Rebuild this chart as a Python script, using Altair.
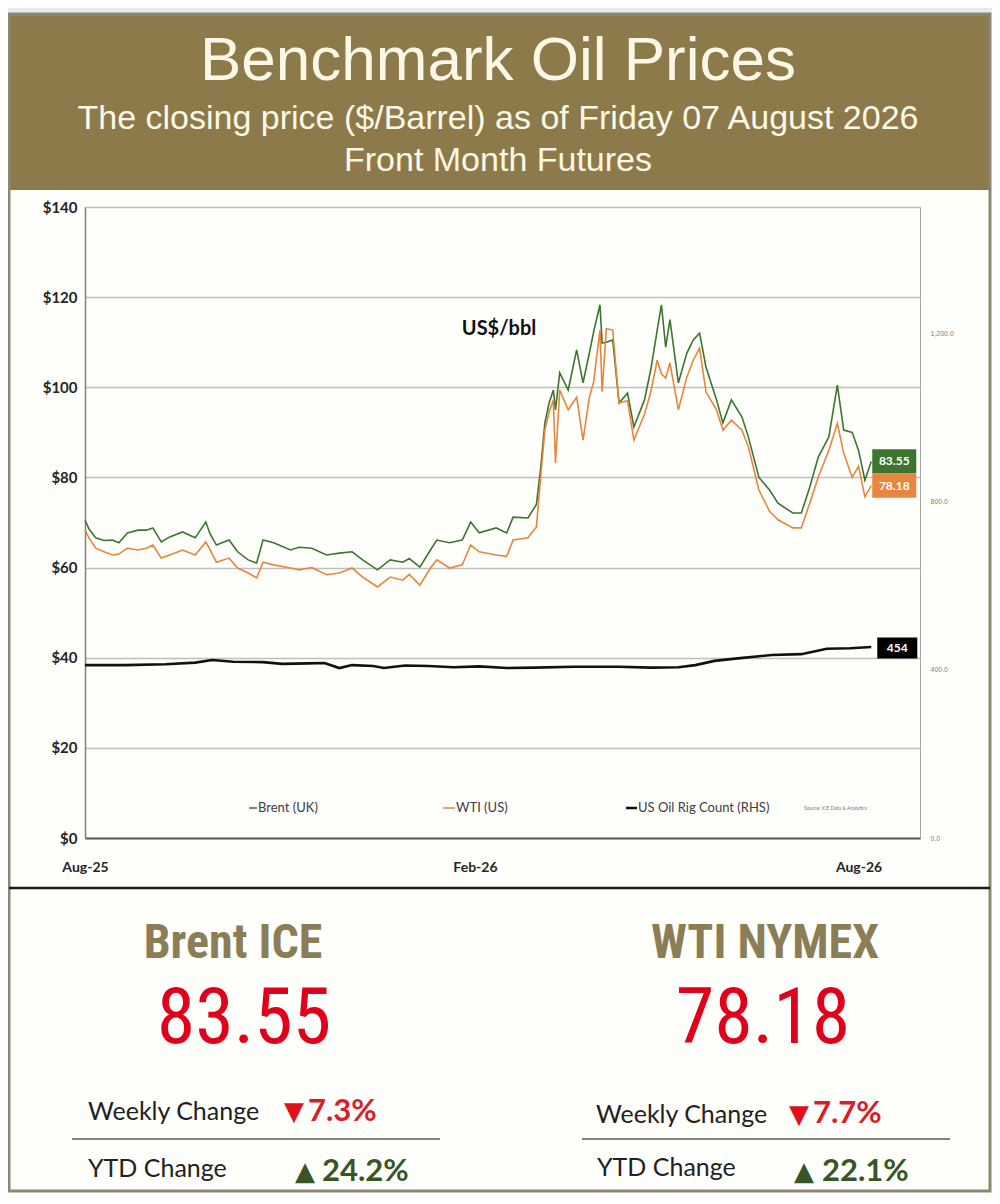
import altair as alt
import pandas as pd

# ---------------- data ----------------
price_dates = [
    "2025-08-01", "2025-08-03", "2025-08-06", "2025-08-10", "2025-08-14", "2025-08-17", "2025-08-21",
    "2025-08-26", "2025-08-30", "2025-09-02", "2025-09-06", "2025-09-10", "2025-09-16", "2025-09-22",
    "2025-09-27", "2025-09-29", "2025-10-02", "2025-10-08", "2025-10-12", "2025-10-17", "2025-10-21",
    "2025-10-24", "2025-10-29", "2025-11-06", "2025-11-10", "2025-11-16", "2025-11-23", "2025-11-29",
    "2025-12-05", "2025-12-10", "2025-12-17", "2025-12-23", "2025-12-29", "2026-01-01", "2026-01-06",
    "2026-01-11", "2026-01-14", "2026-01-20", "2026-01-26", "2026-01-30", "2026-02-03", "2026-02-11",
    "2026-02-16", "2026-02-19", "2026-02-26", "2026-03-02", "2026-03-04", "2026-03-06", "2026-03-08",
    "2026-03-10", "2026-03-11", "2026-03-13", "2026-03-17", "2026-03-21", "2026-03-24", "2026-03-27",
    "2026-03-29", "2026-04-01", "2026-04-02", "2026-04-04", "2026-04-07", "2026-04-10", "2026-04-14",
    "2026-04-17", "2026-04-22", "2026-04-25", "2026-04-28", "2026-04-30", "2026-05-02", "2026-05-04",
    "2026-05-08", "2026-05-12", "2026-05-15", "2026-05-18", "2026-05-21", "2026-05-26", "2026-05-29",
    "2026-06-02", "2026-06-07", "2026-06-10", "2026-06-15", "2026-06-20", "2026-06-24", "2026-07-01",
    "2026-07-05", "2026-07-09", "2026-07-13", "2026-07-18", "2026-07-22", "2026-07-25", "2026-07-29",
    "2026-08-01", "2026-08-04", "2026-08-07",
]
brent = [
    70.5, 68.5, 66.6, 66.0, 66.1, 65.5, 67.7, 68.3, 68.3, 68.8, 65.7, 66.8, 67.9, 66.6, 70.1, 67.5,
    65.0, 66.1, 63.5, 61.7, 61.0, 66.1, 65.5, 63.9, 64.5, 64.3, 62.8, 63.2, 63.5, 61.7, 59.5, 61.7,
    61.2, 62.0, 60.1, 63.9, 66.1, 65.5, 66.1, 70.1, 67.7, 68.8, 67.7, 71.2, 71.0, 74.0, 82.0, 92.1,
    96.5, 99.4, 95.0, 103.2, 99.4, 108.3, 101.0, 107.6, 112.3, 118.3, 109.8, 110.0, 110.5, 96.5, 98.7,
    91.2, 97.2, 104.0, 112.7, 118.3, 108.9, 115.0, 101.0, 107.6, 110.5, 112.0, 104.5, 97.2, 92.1, 97.2,
    93.4, 89.0, 80.0, 77.2, 74.3, 72.1, 72.1, 77.9, 84.5, 89.0, 100.5, 90.5, 90.0, 86.0, 79.4, 83.55,
]
wti = [
    68.3, 66.5, 64.3, 63.5, 62.8, 63.0, 64.3, 63.9, 64.3, 65.0, 62.1, 62.8, 63.9, 62.8, 65.7, 64.0,
    61.2, 62.1, 59.9, 58.8, 57.7, 61.2, 60.6, 59.9, 59.5, 60.0, 58.4, 58.8, 59.9, 57.9, 55.7, 57.9,
    57.2, 58.5, 56.1, 59.9, 61.7, 59.9, 60.6, 65.0, 63.5, 62.8, 62.5, 66.1, 66.6, 69.0, 80.0, 90.5,
    94.5, 97.2, 83.2, 99.4, 95.0, 97.8, 88.3, 97.8, 101.2, 112.7, 99.0, 113.0, 112.7, 96.5, 97.0,
    88.3, 94.0, 99.0, 106.0, 103.0, 102.0, 105.4, 95.0, 102.3, 106.0, 108.7, 99.0, 95.0, 90.5, 92.7,
    90.5, 86.8, 77.2, 72.5, 70.6, 68.8, 68.8, 74.3, 80.1, 86.0, 92.0, 85.4, 80.0, 82.5, 75.7, 78.18,
]
rig_dates = [
    "2025-08-01", "2025-08-20", "2025-09-08", "2025-09-22", "2025-09-30", "2025-10-10", "2025-10-24",
    "2025-11-02", "2025-11-14", "2025-11-22", "2025-11-29", "2025-12-05", "2025-12-15", "2025-12-20",
    "2025-12-30", "2026-01-10", "2026-01-22", "2026-02-03", "2026-02-16", "2026-03-01", "2026-03-20",
    "2026-04-10", "2026-04-25", "2026-05-08", "2026-05-16", "2026-05-25", "2026-06-05", "2026-06-21",
    "2026-07-05", "2026-07-17", "2026-07-28", "2026-08-07",
]
rig = [
    411, 411, 413, 417, 423, 419, 418, 414, 415, 416, 404, 411, 409, 404, 410, 409, 406, 408, 404,
    405, 407, 407, 405, 406, 411, 421, 427, 435, 437, 450, 451, 454,
]

series_names = ["Brent", "WTI"]
series_colors = ["#3d7530", "#e8853f"]
box_colors = ["#4f8a35", "#ed7d31"]
last_labels = ["83.55", "78.18"]
rig_label = "454"

weekly = ["7.3%", "7.7%"]
ytd = ["24.2%", "22.1%"]

y_ticks = [0, 20, 40, 60, 80, 100, 120, 140]
rig_ticks = [0, 400, 800, 1200]

FONT = "Lato"
NARROW = "Liberation Sans Narrow, Roboto Condensed, DejaVu Sans Condensed, Roboto"

# ---------------- frames ----------------
prices = pd.DataFrame({"date": price_dates, "Brent": brent, "WTI": wti})
long = prices.melt("date", var_name="series", value_name="price")
rigs = pd.DataFrame({"date": rig_dates, "rig": rig})
last_p = pd.DataFrame({
    "date": [price_dates[-1]] * 2,
    "series": series_names,
    "price": [brent[-1], wti[-1]],
    "label": last_labels,
})
last_r = pd.DataFrame({"date": [rig_dates[-1]], "rig": [rig[-1]], "label": [rig_label]})
one = pd.DataFrame({"k": [0]})


def dt(y, m, d):
    return alt.DateTime(year=y, month=m, date=d, utc=True)


x_scale = alt.Scale(type="utc", domain=[dt(2025, 8, 1), dt(2026, 8, 30)])
x_axis = alt.Axis(
    values=[dt(2025, 8, 1), dt(2026, 2, 1), dt(2026, 8, 1)], format="%b-%y", labelFlush=False,
    ticks=False, grid=False, domainColor="#595959", domainWidth=2, labelFont=FONT,
    labelFontWeight="bold", labelFontSize=14, labelColor="#262626", labelPadding=22, title=None,
)
X = alt.X("date:T", scale=x_scale, axis=x_axis)

y_price = alt.Y(
    "price:Q", scale=alt.Scale(domain=[0, 140], nice=False),
    axis=alt.Axis(orient="left", values=y_ticks, labelExpr="'$' + datum.value", grid=True,
                  gridColor="#bfbfbf", gridWidth=1.3, ticks=False, domainColor="#7f7f7f",
                  domainWidth=1.5, labelFont=FONT, labelFontSize=15, labelFontWeight="bold",
                  labelColor="#262626", labelPadding=8, title=None),
)
y_rig = alt.Y(
    "rig:Q", scale=alt.Scale(domain=[0, 1500], nice=False),
    axis=alt.Axis(orient="right", values=rig_ticks, format=",.1f", grid=False, ticks=False,
                  domain=False, labelFont="Liberation Sans", labelFontSize=7,
                  labelColor="#7f7f7f", labelPadding=10, title=None),
)

color = alt.Color("series:N", scale=alt.Scale(domain=series_names, range=series_colors), legend=None)
lines = alt.Chart(long).mark_line(strokeWidth=1.6).encode(x=X, y=y_price, color=color)

BOX = "M-1,-0.55L1,-0.55L1,0.55L-1,0.55Z"
boxes = alt.Chart(last_p).mark_point(shape=BOX, size=1936, filled=True, opacity=1, xOffset=23).encode(
    x=X, y=y_price,
    color=alt.Color("series:N", scale=alt.Scale(domain=series_names, range=box_colors), legend=None),
    yOffset=alt.YOffset("series:N", scale=alt.Scale(domain=series_names, range=[-11, 3])),
)
box_txt = alt.Chart(last_p).mark_text(color="white", font=FONT, fontWeight="bold", fontSize=12,
                                      xOffset=23).encode(
    x=X, y=y_price, text="label:N",
    yOffset=alt.YOffset("series:N", scale=alt.Scale(domain=series_names, range=[-11, 3])),
)
price_layer = alt.layer(lines, boxes, box_txt)

rig_line = alt.Chart(rigs).mark_line(color="#111111", strokeWidth=2.6).encode(x=X, y=y_rig)
rig_box = alt.Chart(last_r).mark_point(shape="M-1,-0.52L1,-0.52L1,0.52L-1,0.52Z", size=1600, filled=True,
                                       opacity=1, color="#000000", xOffset=26, yOffset=1).encode(x=X, y=y_rig)
rig_txt = alt.Chart(last_r).mark_text(color="white", font=FONT, fontWeight="bold", fontSize=12,
                                      xOffset=26, yOffset=1).encode(x=X, y=y_rig, text="label:N")
rig_layer = alt.layer(rig_line, rig_box, rig_txt)


# ---------------- decorations ----------------
def rect(x, x2, y, y2, **kw):
    return alt.Chart(one).mark_rect(**kw).encode(
        x=alt.value(x), x2=alt.value(x2), y=alt.value(y), y2=alt.value(y2))


def rule(x, x2, y, color, width):
    return alt.Chart(one).mark_rule(color=color, strokeWidth=width).encode(
        x=alt.value(x), x2=alt.value(x2), y=alt.value(y))


def txt(s, x, y, size, color, font=FONT, weight="normal", align="center"):
    return alt.Chart(one).mark_text(text=s, fontSize=size, color=color, font=font, fontWeight=weight,
                                    align=align, baseline="alphabetic").encode(
        x=alt.value(x), y=alt.value(y))


RED = "#d81e2a"
GREEN = "#375623"
decor = [
    rect(-77, 907, -199, -194, color="#e6eaef"),
    rect(-77, 905, -192, -17, color="#8c7a4b"),
    rect(-76, 905, -193, 984, fillOpacity=0, stroke="#8b8775", strokeWidth=3),
    txt("Benchmark Oil Prices", 413, -127, 62, "#fdf8e6", font="Liberation Sans"),
    txt("The closing price ($/Barrel) as of Friday 07 August 2026", 413, -78, 34, "#fdf8e6",
        font="Liberation Sans"),
    txt("Front Month Futures", 413, -36, 34, "#fdf8e6", font="Liberation Sans"),
    txt("US$/bbl", 414, 128, 20, "#111111", weight="bold"),
    # legend
    rule(164, 172, 601, series_colors[0], 1.5),
    txt("Brent (UK)", 173, 605, 13, "#404040", align="left"),
    rule(358, 370, 601, series_colors[1], 1.5),
    txt("WTI (US)", 371, 605, 13, "#404040", align="left"),
    rule(541, 552, 601, "#111111", 2.5),
    txt("US Oil Rig Count (RHS)", 553, 605, 13, "#404040", align="left"),
    txt("Source: ICE Data & Analytics", 719, 603, 5, "#777777", align="left"),
    # separator
    rule(-76, 905, 681, "#1a1a1a", 2.5),
    # bottom panel
    txt("Brent ICE", 148, 751, 48, "#8b7d55", font=NARROW, weight="bold"),
    txt("WTI NYMEX", 680, 751, 48, "#8b7d55", font=NARROW, weight="bold"),
    txt(last_labels[0], 159, 836, 78, "#e0001b", font=NARROW),
    txt(last_labels[1], 678, 836, 78, "#e0001b", font=NARROW),
    txt("Weekly Change", 3, 913, 25, "#222222", align="left"),
    txt("\u25bc", 199, 913, 26, "#e3101c", font="DejaVu Sans", align="left"),
    txt(weekly[0], 223, 914, 31, RED, weight="bold", align="left"),
    rule(-13, 355, 932, "#5a5a4a", 1.5),
    txt("YTD Change", 3, 970, 25, "#222222", align="left"),
    txt("\u25b2", 210, 973, 26, GREEN, font="DejaVu Sans", align="left"),
    txt(ytd[0], 237, 974, 31, GREEN, weight="bold", align="left"),
    txt("Weekly Change", 511, 916, 25, "#222222", align="left"),
    txt("\u25bc", 704, 916, 26, "#e3101c", font="DejaVu Sans", align="left"),
    txt(weekly[1], 728, 916, 31, RED, weight="bold", align="left"),
    rule(497, 865, 932, "#5a5a4a", 1.5),
    txt("YTD Change", 512, 969, 25, "#222222", align="left"),
    txt("\u25b2", 709, 973, 26, GREEN, font="DejaVu Sans", align="left"),
    txt(ytd[1], 737, 974, 31, GREEN, weight="bold", align="left"),
]

chart = alt.layer(*decor, price_layer, rig_layer).resolve_scale(y="independent").properties(
    width=835, height=631,
    autosize=alt.AutoSizeParams(type="none"),
    padding={"left": 77, "top": 199, "right": 72, "bottom": 356},
    background="#fefefb",
).configure_view(stroke="#a6a6a6", strokeWidth=1)

chart.save("out.html", embed_options={"renderer": "svg", "actions": False})
